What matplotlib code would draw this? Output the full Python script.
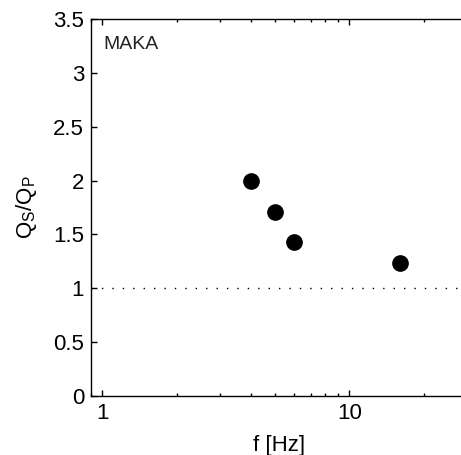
import matplotlib
matplotlib.use("Agg")
import matplotlib.pyplot as plt
from matplotlib.ticker import LogLocator, FixedLocator, NullFormatter

plt.rcParams['font.family'] = ['Liberation Sans', 'DejaVu Sans']
plt.rcParams['mathtext.fontset'] = 'custom'
plt.rcParams['mathtext.rm'] = 'Liberation Sans'

# data
freq = [4, 5, 6, 16]
qs_qp = [2.0, 1.71, 1.427, 1.232]
station = "MAKA"
yticks = [0, 0.5, 1, 1.5, 2, 2.5, 3, 3.5]
ytick_labels = ["0", "0.5", "1", "1.5", "2", "2.5", "3", "3.5"]

fig = plt.figure(figsize=(4.61, 4.55), dpi=100)
# axes spans past the right edge, as in the cropped original
ax = fig.add_axes([91/461, 59/455, 376/461, 377/455])

ax.axhline(1, color='black', lw=1.0, dashes=(1, 6.5))
ax.plot(freq, qs_qp, 'o', color='black', markersize=11, zorder=3)

ax.set_xscale('log')
ax.set_xlim(0.9, 30)
ax.set_ylim(0, 3.5)
ax.set_yticks(yticks)
ax.set_yticklabels(ytick_labels)
ax.xaxis.set_major_locator(FixedLocator([1, 10]))
ax.set_xticklabels(["1", "10"])
ax.xaxis.set_minor_locator(LogLocator(base=10, subs=range(2, 10)))
ax.xaxis.set_minor_formatter(NullFormatter())

ax.tick_params(which='both', direction='in', top=True, right=False,
               labelsize=16, width=1, color='black', pad=5)
ax.tick_params(which='major', length=4)
ax.tick_params(which='minor', length=2.5)
for s in ax.spines.values():
    s.set_linewidth(1)

ax.set_xlabel("f [Hz]", fontsize=16, labelpad=8)
ax.set_ylabel(r"Q$_\mathregular{S}$/Q$_\mathregular{P}$", fontsize=16, labelpad=10)
ax.text(0.032, 0.955, station, transform=ax.transAxes, ha='left', va='top',
        fontsize=14, color='#222222')

fig.savefig("out.png", dpi=100)
